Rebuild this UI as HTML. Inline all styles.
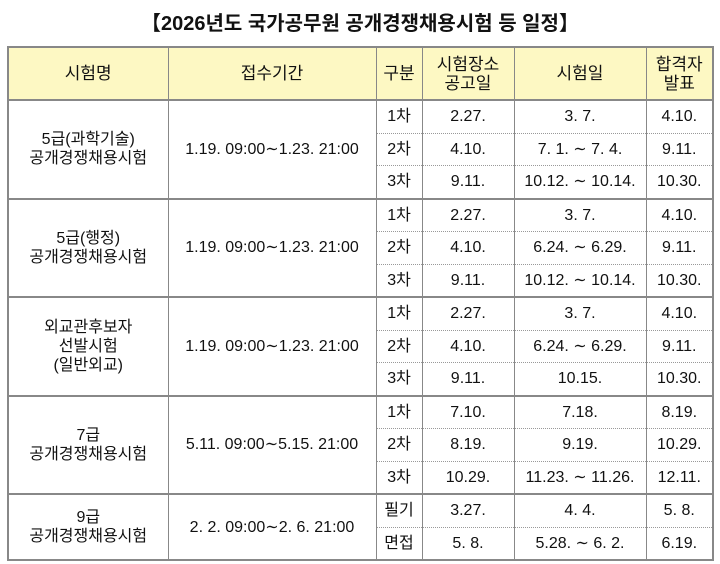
<!DOCTYPE html>
<html><head><meta charset="utf-8"><style>
html,body{margin:0;padding:0;background:#fff;width:720px;height:564px;overflow:hidden}
body{font-family:"Liberation Sans","Noto Sans CJK KR","NanumGothic",sans-serif;color:#111}
.title{position:absolute;top:7px;left:0;width:720px;text-align:center;font-size:20px;font-weight:bold}
table{position:absolute;left:7px;top:46px;border-collapse:collapse;table-layout:fixed;width:705px;border:2px solid #888}
td{text-align:center;vertical-align:middle;font-size:16px;padding:0;height:31.5px;line-height:19px;border-left:1px solid #888;border-right:1px solid #888;white-space:nowrap}
tr.h td{background:#fdf8c3;height:51px;border-bottom:2px solid #888;font-size:17px}
tr.d td.s{border-bottom:1px dotted #999}
tr.e td{border-bottom:2px solid #888}
</style></head><body>
<div class="title">【2026년도 국가공무원 공개경쟁채용시험 등 일정】</div>
<table>
<colgroup><col style="width:160px"><col style="width:208px"><col style="width:46px"><col style="width:92px"><col style="width:132px"><col style="width:67px"></colgroup>
<tr class="h"><td>시험명</td><td>접수기간</td><td>구분</td><td>시험장소<br>공고일</td><td>시험일</td><td>합격자<br>발표</td></tr>

<tr class="d"><td rowspan="3" style="border-bottom:2px solid #888">5급(과학기술)<br>공개경쟁채용시험</td><td rowspan="3" style="border-bottom:2px solid #888">1.19. 09:00∼1.23. 21:00</td><td class="s">1차</td><td class="s">2.27.</td><td class="s">3. 7.</td><td class="s">4.10.</td></tr>
<tr class="d"><td class="s">2차</td><td class="s">4.10.</td><td class="s">7. 1. ∼ 7. 4.</td><td class="s">9.11.</td></tr>
<tr class="e"><td>3차</td><td>9.11.</td><td>10.12. ∼ 10.14.</td><td>10.30.</td></tr>

<tr class="d"><td rowspan="3" style="border-bottom:2px solid #888">5급(행정)<br>공개경쟁채용시험</td><td rowspan="3" style="border-bottom:2px solid #888">1.19. 09:00∼1.23. 21:00</td><td class="s">1차</td><td class="s">2.27.</td><td class="s">3. 7.</td><td class="s">4.10.</td></tr>
<tr class="d"><td class="s">2차</td><td class="s">4.10.</td><td class="s">6.24. ∼ 6.29.</td><td class="s">9.11.</td></tr>
<tr class="e"><td>3차</td><td>9.11.</td><td>10.12. ∼ 10.14.</td><td>10.30.</td></tr>

<tr class="d"><td rowspan="3" style="border-bottom:2px solid #888">외교관후보자<br>선발시험<br>(일반외교)</td><td rowspan="3" style="border-bottom:2px solid #888">1.19. 09:00∼1.23. 21:00</td><td class="s">1차</td><td class="s">2.27.</td><td class="s">3. 7.</td><td class="s">4.10.</td></tr>
<tr class="d"><td class="s">2차</td><td class="s">4.10.</td><td class="s">6.24. ∼ 6.29.</td><td class="s">9.11.</td></tr>
<tr class="e"><td>3차</td><td>9.11.</td><td>10.15.</td><td>10.30.</td></tr>

<tr class="d"><td rowspan="3" style="border-bottom:2px solid #888">7급<br>공개경쟁채용시험</td><td rowspan="3" style="border-bottom:2px solid #888">5.11. 09:00∼5.15. 21:00</td><td class="s">1차</td><td class="s">7.10.</td><td class="s">7.18.</td><td class="s">8.19.</td></tr>
<tr class="d"><td class="s">2차</td><td class="s">8.19.</td><td class="s">9.19.</td><td class="s">10.29.</td></tr>
<tr class="e"><td>3차</td><td>10.29.</td><td>11.23. ∼ 11.26.</td><td>12.11.</td></tr>

<tr class="d"><td rowspan="2">9급<br>공개경쟁채용시험</td><td rowspan="2">2. 2. 09:00∼2. 6. 21:00</td><td class="s">필기</td><td class="s">3.27.</td><td class="s">4. 4.</td><td class="s">5. 8.</td></tr>
<tr><td>면접</td><td>5. 8.</td><td>5.28. ∼ 6. 2.</td><td>6.19.</td></tr>
</table>
</body></html>
